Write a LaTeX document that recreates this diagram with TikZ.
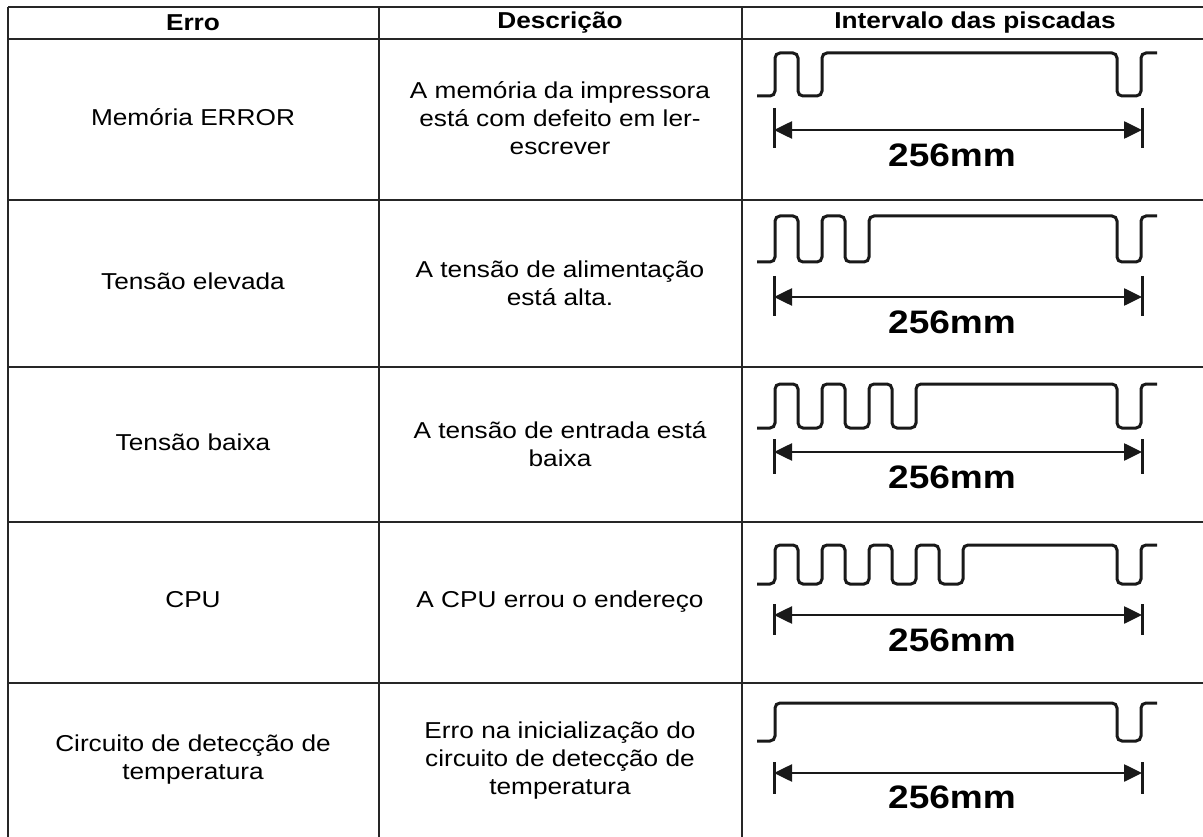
\documentclass[tikz,border=0pt]{standalone}
\usepackage{fontspec}
\setmainfont{Liberation Sans}[FakeStretch=1.14]
\usetikzlibrary{arrows.meta}
\tikzset{
	grid line/.style={line width=1.5pt, black!85},
	cell/.style={align=center, inner sep=0pt, font=\fontsize{23}{28}\selectfont},
	head/.style={cell, font=\fontsize{23}{28}\selectfont\bfseries},
	wave/.style={line width=3pt, rounded corners=5pt, black!90},
	tick/.style={line width=3pt, black!90},
	dimline/.style={line width=2.6pt, black!90, {Triangle[length=18pt,width=17pt]}-{Triangle[length=18pt,width=17pt]}},
	size label/.style={inner sep=0pt, font=\fontsize{32.5}{36}\selectfont\bfseries}
}

\begin{document}
\begin{tikzpicture}[x=1pt, y=-1pt]
			%%%%% START %%%%%
			\useasboundingbox (0, 0) rectangle (1203, 837);
			
			% table lines
			\foreach \y in {7, 39, 200, 367, 522, 683}
				\draw[grid line] (8, \y) -- (1203, \y);
			\foreach \x in {8, 379, 742}
				\draw[grid line] (\x, 7) -- (\x, 837);
			
			% header
			\node[head] (hErro) at (193, 23) {Erro};
			\node[head] (hDesc) at (560, 23) {Descrição};
			\node[head] (hInt) at (975, 23) {Intervalo das piscadas};
			
			% first column
			\node[cell] (erro1) at (193, 117) {Memória ERROR};
			\node[cell] (erro2) at (193, 281) {Tensão elevada};
			\node[cell] (erro3) at (193, 442) {Tensão baixa};
			\node[cell] (erro4) at (193, 600) {CPU};
			\node[cell] (erro5) at (193, 760) {Circuito de detecção de\\temperatura};
			
			% second column
			\node[cell] (desc1) at (560, 118) {A memória da impressora\\está com defeito em ler-\\escrever};
			\node[cell] (desc2) at (560, 283) {A tensão de alimentação\\está alta.};
			\node[cell] (desc3) at (560, 444) {A tensão de entrada está\\baixa};
			\node[cell] (desc4) at (560, 602) {A CPU errou o endereço};
			\node[cell] (desc5) at (560, 761) {Erro na inicialização do\\circuito de detecção de\\temperatura};
			
			% blink waves: pulses / high / low / tick top / tick bottom / arrow / label
			\foreach \n/\hi/\lo/\ta/\tb/\ay/\ly [count=\r] in {
				1/53/96/108/148/130/155,
				2/216/262/276/316/297/322,
				3/384/428/439/474/452/477,
				4/545/584/604/635/615/640,
				0/703/741/762/794/773/797}{
				\def\pulsepath{}
				\ifnum\n>0
					\foreach \k in {1,...,\n}{
						\pgfmathsetmacro\xr{775+47*(\k-1)}
						\pgfmathsetmacro\xf{798+47*(\k-1)}
						\xdef\pulsepath{\pulsepath -- (\xr,\lo) -- (\xr,\hi) -- (\xf,\hi) -- (\xf,\lo)}
					}
				\fi
				\pgfmathsetmacro\xe{775+47*\n}
				\draw[wave] (757,\lo) \pulsepath -- (\xe,\lo) -- (\xe,\hi) -- (1117,\hi) -- (1117,\lo) -- (1141,\lo) -- (1141,\hi) -- (1157,\hi);
				
				\coordinate (left\r) at (774,\ay);
				\coordinate (right\r) at (1142,\ay);
				\draw[tick] (774,\ta) -- (774,\tb);
				\draw[tick] (1142,\ta) -- (1142,\tb);
				\draw[dimline] (left\r) -- (right\r);
				\node[size label] (size\r) at (952,\ly) {256mm};
			}
			%%%%% END %%%%%
\end{tikzpicture}
\end{document}
